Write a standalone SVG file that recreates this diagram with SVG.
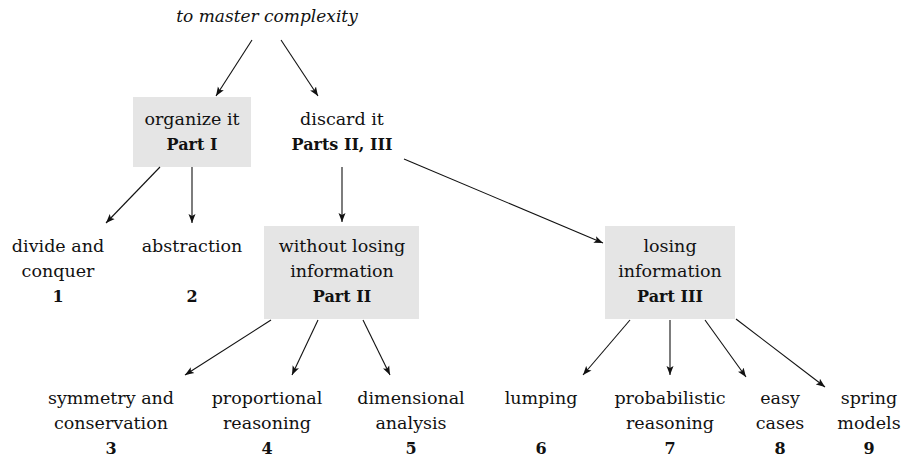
<svg xmlns="http://www.w3.org/2000/svg" width="906" height="458" viewBox="0 0 906 458">
<defs>
<marker id="ah" markerWidth="10" markerHeight="8" refX="9" refY="4" orient="auto" markerUnits="userSpaceOnUse">
<path d="M0,0.5 L9,4 L0,7.5 L2,4 Z" fill="#111"/>
</marker>
<style>
text{font-family:"DejaVu Serif","Liberation Serif",serif;font-size:17.5px;fill:#111;text-anchor:middle}
.b{font-weight:bold;font-size:16px}
.i{font-style:italic;font-size:17px}
.box{fill:#e5e5e5}
.c line{stroke:#111;stroke-width:1.1;marker-end:url(#ah)}
</style>
</defs>
<rect width="906" height="458" fill="#fff"/>
<g id="root"><text class="i" x="267" y="22">to master complexity</text></g>
<g id="organize"><rect class="box" x="133" y="97" width="118" height="70"/><text x="192" y="125">organize it</text><text class="b" x="192" y="150">Part I</text></g>
<g id="discard"><text x="342" y="125">discard it</text><text class="b" x="342" y="150">Parts II, III</text></g>
<g id="divide"><text x="58" y="252">divide and</text><text x="58" y="277">conquer</text><text class="b" x="58" y="302">1</text></g>
<g id="abstraction"><text x="192" y="252">abstraction</text><text class="b" x="192" y="302">2</text></g>
<g id="without"><rect class="box" x="264" y="226" width="155" height="93"/><text x="342" y="252">without losing</text><text x="342" y="277">information</text><text class="b" x="342" y="302">Part II</text></g>
<g id="losing"><rect class="box" x="605" y="226" width="130" height="93"/><text x="670" y="252">losing</text><text x="670" y="277">information</text><text class="b" x="670" y="302">Part III</text></g>
<g id="symmetry"><text x="111" y="404">symmetry and</text><text x="111" y="429">conservation</text><text class="b" x="111" y="454">3</text></g>
<g id="proportional"><text x="267" y="404">proportional</text><text x="267" y="429">reasoning</text><text class="b" x="267" y="454">4</text></g>
<g id="dimensional"><text x="411" y="404">dimensional</text><text x="411" y="429">analysis</text><text class="b" x="411" y="454">5</text></g>
<g id="lumping"><text x="541" y="404">lumping</text><text class="b" x="541" y="454">6</text></g>
<g id="probabilistic"><text x="670" y="404">probabilistic</text><text x="670" y="429">reasoning</text><text class="b" x="670" y="454">7</text></g>
<g id="easy"><text x="780" y="404">easy</text><text x="780" y="429">cases</text><text class="b" x="780" y="454">8</text></g>
<g id="spring"><text x="869" y="404">spring</text><text x="869" y="429">models</text><text class="b" x="869" y="454">9</text></g>
<g id="connectors" class="c">
<line x1="252" y1="40" x2="216" y2="96"/>
<line x1="281" y1="40" x2="318" y2="96"/>
<line x1="160" y1="167" x2="106" y2="223"/>
<line x1="192" y1="167" x2="192" y2="223"/>
<line x1="342" y1="167" x2="342" y2="222"/>
<line x1="404" y1="159" x2="603" y2="243"/>
<line x1="271" y1="320" x2="185" y2="375"/>
<line x1="318" y1="320" x2="292" y2="375"/>
<line x1="363" y1="320" x2="390" y2="375"/>
<line x1="630" y1="320" x2="583" y2="375"/>
<line x1="670" y1="320" x2="670" y2="375"/>
<line x1="705" y1="320" x2="746" y2="377"/>
<line x1="736" y1="319" x2="825" y2="387"/>
</g>
</svg>
